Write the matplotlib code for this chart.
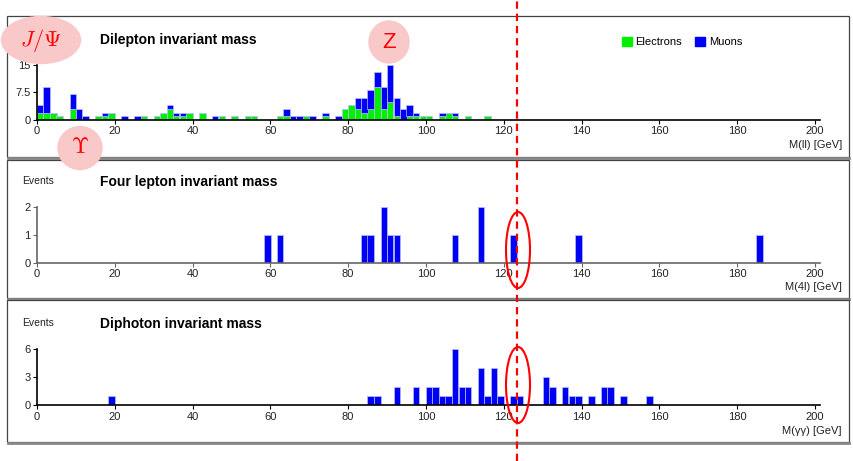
import matplotlib
matplotlib.use("Agg")
from matplotlib import pyplot as plt
from matplotlib.patches import Ellipse, Rectangle, Patch
from matplotlib.lines import Line2D
from matplotlib.transforms import blended_transform_factory

plt.rcParams['font.family'] = ['Liberation Sans', 'DejaVu Sans']
plt.rcParams['mathtext.fontset'] = 'cm'

BIN = 5.0 / 3.0  # GeV per bin

# dilepton: bin centres [GeV], electron and muon counts (stacked)
dilep_mass = [0.8, 2.5, 4.2, 5.8, 9.2, 10.8, 12.5, 15.8, 17.5, 19.2,
              22.5, 25.8, 27.5, 30.8, 32.5, 34.2, 35.8, 37.5, 39.2, 42.5,
              45.8, 47.5, 50.8, 54.2, 55.8, 62.5, 64.2, 65.8, 67.5, 69.2,
              70.8, 74.2, 77.5, 79.2, 80.8, 82.5, 84.2, 85.8, 87.5, 89.2,
              90.8, 92.5, 94.2, 95.8, 97.5, 99.2, 100.8, 104.2, 105.8, 107.5,
              110.8, 115.8]
electrons = [2, 2, 2, 1, 3, 0, 0, 1, 1, 2,
             0, 0, 1, 1, 2, 3, 1, 1, 2, 2,
             0, 1, 1, 1, 1, 1, 1, 0, 0, 1,
             0, 1, 0, 3, 4, 3, 2, 3, 9, 3,
             5, 1, 0, 1, 1, 1, 1, 1, 2, 1,
             1, 1]
muons = [2, 7, 0, 0, 4, 3, 1, 0, 1, 0,
         1, 1, 0, 0, 0, 1, 1, 1, 0, 0,
         1, 0, 0, 0, 0, 0, 2, 1, 1, 0,
         1, 1, 1, 0, 0, 3, 4, 5, 4, 6,
         10, 5, 3, 3, 1, 0, 0, 1, 0, 1,
         0, 0]

# four lepton
fourl_mass = [59.2, 62.5, 84.2, 85.8, 89.2, 90.8, 92.5, 107.5, 114.2, 122.5,
              139.2, 185.8]
fourl_count = [1, 1, 1, 1, 2, 1, 1, 1, 2, 1, 1, 1]

# diphoton
gg_mass = [19.2, 85.8, 87.5, 92.5, 97.5, 100.8, 102.5, 104.2, 105.8, 107.5,
           109.2, 110.8, 114.2, 115.8, 117.5, 119.2, 122.5, 124.2, 130.8, 132.5,
           135.8, 137.5, 139.2, 142.5, 145.8, 147.5, 150.8, 157.5]
gg_count = [1, 1, 1, 2, 2, 2, 2, 1, 1, 6,
            2, 2, 4, 1, 4, 1, 1, 1, 3, 2,
            2, 1, 1, 1, 2, 2, 1, 1]

x_ticks = [0, 20, 40, 60, 80, 100, 120, 140, 160, 180, 200]
higgs_mass = 123.5

W, H = 854, 461
GREEN = '#00f000'
BLUE = '#0000f5'
EDGE = '#b8c0ff'


def fx(px):
    return px / W


def fy(py):
    return 1 - py / H


def style_axis(ax, ymax, yticks, ylabels, spine_col):
    ax.set_xlim(0, 201.3)
    ax.set_ylim(0, ymax)
    ax.set_xticks(x_ticks)
    ax.set_yticks(yticks)
    ax.set_yticklabels(ylabels)
    ax.patch.set_alpha(0)
    for s in ['top', 'right']:
        ax.spines[s].set_visible(False)
    for s in ['left', 'bottom']:
        ax.spines[s].set_color(spine_col)
        ax.spines[s].set_linewidth(1.2)
    ax.tick_params(length=3, width=0.8, pad=1.5, labelsize=8,
                   colors='#222222', color=spine_col)


fig = plt.figure(figsize=(W / 100, H / 100), dpi=100)

# panel frames
for top, bot in [(16, 157), (160, 298), (300, 442)]:
    fig.add_artist(Rectangle((fx(7), fy(bot)), fx(842), (bot - top) / H,
                             transform=fig.transFigure, fill=False,
                             edgecolor='#444444', lw=0.9, zorder=-2))
    fig.add_artist(Line2D([fx(8), fx(849)], [fy(bot + 1), fy(bot + 1)],
                          transform=fig.transFigure, color='#888888', lw=2,
                          zorder=-2))

ax1 = fig.add_axes([fx(37), fy(120), 783 / W, 55.4 / H])
ax2 = fig.add_axes([fx(37), fy(262.7), 783 / W, 56 / H])
ax3 = fig.add_axes([fx(37), fy(405.3), 783 / W, 56.3 / H])

ax1.bar(dilep_mass, electrons, width=BIN, color=GREEN, edgecolor=EDGE, lw=0.5,
        label='Electrons')
ax1.bar(dilep_mass, muons, width=BIN, bottom=electrons, color=BLUE,
        edgecolor=EDGE, lw=0.5, label='Muons')
style_axis(ax1, 15, [0, 7.5, 15], ['0', '7.5', '15'], 'black')

ax2.bar(fourl_mass, fourl_count, width=BIN, color=BLUE, edgecolor=EDGE, lw=0.5)
style_axis(ax2, 2, [0, 1, 2], ['0', '1', '2'], '#666666')

ax3.bar(gg_mass, gg_count, width=BIN, color=BLUE, edgecolor=EDGE, lw=0.5)
style_axis(ax3, 6, [0, 3, 6], ['0', '3', '6'], 'black')

# titles and labels
fig.text(fx(100), fy(40), 'Dilepton invariant mass', fontsize=10,
         fontweight='bold', va='center')
fig.text(fx(100), fy(182), 'Four lepton invariant mass', fontsize=10,
         fontweight='bold', va='center')
fig.text(fx(100), fy(324), 'Diphoton invariant mass', fontsize=10,
         fontweight='bold', va='center')
fig.text(fx(22), fy(181), 'Events', fontsize=7.5, va='center', color='#222222')
fig.text(fx(22), fy(323), 'Events', fontsize=7.5, va='center', color='#222222')
fig.text(fx(842), fy(145), 'M(ll) [GeV]', fontsize=8, ha='right',
         va='center', color='#222222')
fig.text(fx(842), fy(287), 'M(4l) [GeV]', fontsize=8, ha='right',
         va='center', color='#222222')
fig.text(fx(842), fy(431), 'M(\u03b3\u03b3) [GeV]', fontsize=8, ha='right',
         va='center', color='#222222')

fig.legend(handles=[Patch(color=GREEN, label='Electrons'),
                    Patch(color=BLUE, label='Muons')],
           loc='center left', bbox_to_anchor=(fx(622), fy(42)), ncol=2,
           frameon=False, fontsize=8, handlelength=0.9, handleheight=0.9,
           handletextpad=0.3, columnspacing=1.2, borderpad=0, borderaxespad=0)

# resonance labels
pink = '#f9c8c8'
for cx, cy, w, h, txt, size in [(41, 40, 79, 47, r'$J/\Psi$', 16),
                                (389, 42, 40, 42, 'Z', 16),
                                (80, 148, 44, 43, r'$\Upsilon$', 16)]:
    fig.add_artist(Ellipse((fx(cx), fy(cy)), w / W, h / H,
                           transform=fig.transFigure, color=pink, zorder=3))
    fig.text(fx(cx), fy(cy), txt, color='red', fontsize=size, ha='center',
             va='center', zorder=4)

# Higgs candidate markers
for cy in [250, 385]:
    fig.add_artist(Ellipse((fx(518), fy(cy)), 24 / W, 76 / H,
                           transform=fig.transFigure, fill=False,
                           edgecolor='red', lw=1.5, zorder=5))

trans = blended_transform_factory(ax1.transData, fig.transFigure)
fig.add_artist(Line2D([higgs_mass, higgs_mass], [0, 1], transform=trans,
                      color='red', lw=1.6, linestyle=(0, (3.3, 2.2)),
                      zorder=6))

fig.savefig('out.png', dpi=100)
